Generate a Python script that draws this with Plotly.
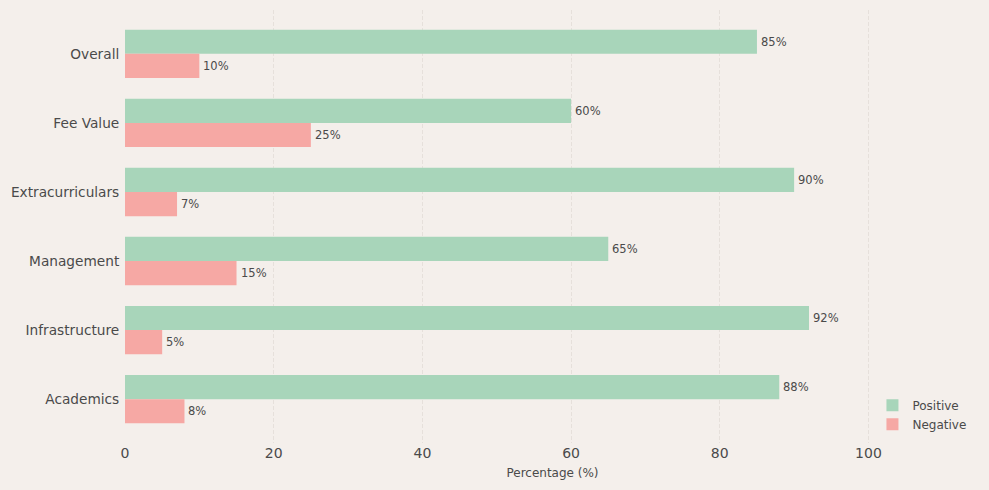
import plotly.graph_objects as go

categories = ["Academics", "Infrastructure", "Management", "Extracurriculars", "Fee Value", "Overall"]
positive = [88, 92, 65, 90, 60, 85]
negative = [8, 5, 15, 7, 25, 10]
x_ticks = [0, 20, 40, 60, 80, 100]

POS_COLOR = "#a8d5ba"
NEG_COLOR = "#f6a8a4"
BG = "#f4efeb"
FONT = "DejaVu Sans"
TXT = "#4a4a4a"

fig = go.Figure()
fig.add_trace(go.Bar(
    y=categories, x=positive, orientation="h", name="Positive",
    marker=dict(color=POS_COLOR, line=dict(width=0)),
    width=0.35, offset=0, legendrank=1,
))
fig.add_trace(go.Bar(
    y=categories, x=negative, orientation="h", name="Negative",
    marker=dict(color=NEG_COLOR, line=dict(width=0)),
    width=0.35, offset=-0.35, legendrank=2,
))

for cat, p, n in zip(categories, positive, negative):
    fig.add_annotation(x=p, y=cat, text=f"{p}%", showarrow=False,
                       xanchor="left", yanchor="middle", xshift=2, yshift=12,
                       font=dict(family=FONT, size=11.5, color=TXT))
    fig.add_annotation(x=n, y=cat, text=f"{n}%", showarrow=False,
                       xanchor="left", yanchor="middle", xshift=2, yshift=-12,
                       font=dict(family=FONT, size=11.5, color=TXT))

fig.update_layout(
    width=989, height=490,
    margin=dict(l=125, r=9, t=10, b=47, autoexpand=False),
    paper_bgcolor=BG, plot_bgcolor=BG,
    barmode="overlay",
    font=dict(family=FONT, color=TXT),
    showlegend=True,
    legend=dict(
        x=0.99, y=0.01, xanchor="right", yanchor="bottom",
        bgcolor="rgba(0,0,0,0)", borderwidth=0,
        font=dict(family=FONT, size=12, color=TXT),
        tracegroupgap=0, itemwidth=30,
    ),
    xaxis=dict(
        range=[0, 115], tickvals=x_ticks, automargin=False,
        showgrid=True, gridcolor="#e6e0db", griddash="4px,2px", gridwidth=1,
        zeroline=False, showline=False, ticks="",
        tickfont=dict(family=FONT, size=14, color=TXT),
        title=dict(text="Percentage (%)", font=dict(family=FONT, size=12, color=TXT), standoff=8),
    ),
    yaxis=dict(
        type="category", categoryorder="array", categoryarray=categories,
        range=[-0.635, 5.635], automargin=False,
        showgrid=False, zeroline=False, showline=False,
        ticks="outside", ticklen=2, tickcolor="rgba(0,0,0,0)",
        tickfont=dict(family=FONT, size=13.7, color=TXT),
    ),
)

fig.write_html("out.html")
